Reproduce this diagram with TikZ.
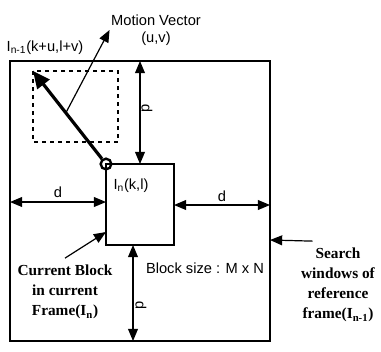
\documentclass[tikz,border=0pt]{standalone}
\usepackage{fontspec}
\setmainfont{Liberation Serif}
\setsansfont{Liberation Sans}
\usetikzlibrary{arrows.meta,calc}

\begin{document}
\begin{tikzpicture}[x=0.75pt, y=-0.75pt, every node/.style={font=\sffamily\fontsize{11}{12.5}\selectfont, inner sep=1pt}, >={Triangle[length=3.2mm, width=2.6mm]}, dim/.style={<->, line width=0.9pt}, note/.style={font=\rmfamily\bfseries\fontsize{11.5}{15}\selectfont, align=center, inner sep=5pt}]
	\useasboundingbox (0,0) rectangle (381,351);
	% search window, previous block position, current block
	\coordinate (W1) at (10,61); \coordinate (W2) at (270,341);
	\coordinate (R1) at (33,71); \coordinate (R2) at (118,142);
	\coordinate (B1) at (106,164); \coordinate (B2) at (174,245);
	\draw[line width=1.1pt] (W1) rectangle (W2);
	\draw[dashed, line width=0.9pt] (R1) rectangle (R2);
	\draw[line width=1.1pt] (B1) rectangle (B2);
	\node[circle, draw, line width=1.8pt, minimum size=8pt, inner sep=0pt] (org) at (B1) {};
	\draw[->, line width=2.4pt, >={Triangle[length=4.5mm, width=4mm]}] (org) -- (R1);
	\node[align=center] (mv) at (156,30) {Motion Vector\\(u,v)};
	\coordinate (mv0) at ($(B1)!0.55!(R1)$);
	\draw[->, line width=0.9pt] (mv0) -- (mv.west);
	\node (ref) at (45,48) {I\textsubscript{n-1}(k+u,l+v)};
	\node (cur) at (131,186) {I\textsubscript{n}(k,l)};
	\node (size) at (205,268) {Block size : M x N};
	% search range
	\draw[dim] (140,0 |- W1) -- (140,0 |- B1);
	\node[rotate=90] (pT) at (147,108) {p};
	\draw[dim] (133,0 |- B2) -- (133,0 |- W2);
	\node[rotate=90] (pB) at (141,305) {p};
	\draw[dim] (W1 |- 0,202) -- (B1 |- 0,202);
	\node (dL) at (58,192) {d};
	\draw[dim] (B2 |- 0,205) -- (W2 |- 0,205);
	\node (dR) at (222,196) {d};
	% captions
	\node[note] (cb) at (65,292) {Current Block\\in current\\Frame(I\textsubscript{n})};
	\draw[->, line width=0.9pt] (cb.north) -- (B1 |- 0,232);
	\node[note] (sw) at (338,285) {Search\\windows of\\reference\\frame(I\textsubscript{n-1})};
	\draw[->, line width=0.9pt] (sw.120) -- (W2 |- 0,240);
\end{tikzpicture}
\end{document}
